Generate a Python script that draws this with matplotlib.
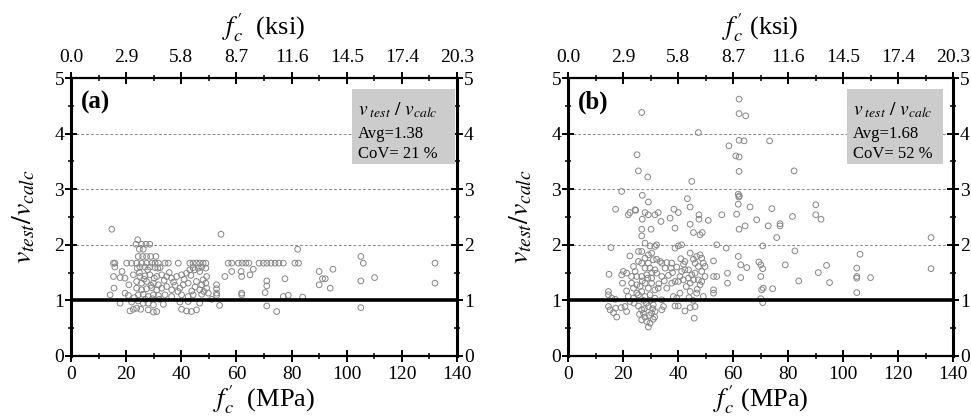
import matplotlib
matplotlib.use('Agg')
import matplotlib.pyplot as plt
from matplotlib.ticker import FixedLocator, MultipleLocator
from matplotlib.patches import Rectangle

plt.rcParams['font.family'] = ['Liberation Serif', 'DejaVu Serif']
plt.rcParams['mathtext.fontset'] = 'stix'

# ---------------- data ----------------
mpa_ticks = [0, 20, 40, 60, 80, 100, 120, 140]
ksi_labels = ['0.0', '2.9', '5.8', '8.7', '11.6', '14.5', '17.4', '20.3']
y_ticks = [0, 1, 2, 3, 4, 5]
grid_levels = [2, 3, 4]
panel_labels = ['(a)', '(b)']
stat_avg = [1.38, 1.68]
stat_cov = [21, 52]

a_fc = [
    14.8, 54.4, 24.2, 23.6, 25.6, 27.2, 28.6, 24.8, 26.2, 24.4, 26.0, 27.4, 28.9, 30.8, 82.2, 105.1,
    15.4, 15.9, 20.2, 22.0, 23.8, 25.6, 27.4, 29.3, 30.5, 31.7, 34.1, 35.3, 38.9, 43.1, 44.3, 45.5, 46.7, 47.9,
    48.9, 57.0, 58.3, 60.7, 62.1, 63.4, 64.5, 68.2, 69.8, 71.0, 72.5, 74.0, 75.4, 77.0, 81.2, 82.5, 106.0, 132.0,
    15.9, 25.0, 26.8, 28.6, 30.5, 32.3, 47.4, 48.9, 44.3, 46.2,
    15.4, 17.8, 19.6, 22.6, 25.0, 26.8, 28.6, 31.1, 32.9, 34.7, 36.5, 38.3, 40.1, 41.9, 43.1, 44.9, 46.7, 49.2, 47.9, 55.8, 58.3,
    23.8, 25.6, 27.4, 29.9, 31.7, 34.7, 37.7, 40.7, 42.5, 45.5, 47.4, 48.9,
    15.6, 23.8, 25.6, 27.4, 29.3, 31.1, 32.9, 36.5, 39.5, 43.8, 46.7, 48.2, 49.2, 52.8, 52.8, 52.8,
    14.2, 19.6, 20.8, 24.4, 26.2, 28.0, 29.9, 31.7, 34.1, 36.5, 40.1, 42.5, 44.3, 47.4, 49.8, 52.8,
    17.8, 22.0, 24.4, 26.2, 28.0, 29.9, 33.5, 39.5, 42.5, 46.7, 53.9, 51.0,
    21.4, 22.6, 23.8, 25.3, 28.0, 29.9, 31.1, 40.1, 41.9, 43.7, 45.5,
    18.5, 21.0, 23.0, 24.8, 26.5, 27.8, 29.0, 30.2, 32.0, 33.8, 35.6, 37.2, 38.8, 41.0, 43.5, 45.0, 27.0, 29.5, 24.0, 31.5,
    66.1, 61.7, 61.9, 64.9, 90.0, 95.0, 91.2, 92.2, 77.6, 71.0, 71.0, 70.4, 61.9, 61.9, 90.0, 94.0, 105.1, 110.1, 132.0,
    77.0, 78.8, 84.0, 71.0, 74.6, 105.1,
]
a_ratio = [
    2.28, 2.19, 2.09, 2.01, 2.01, 2.01, 2.01, 1.92, 1.92, 1.79, 1.79, 1.79, 1.79, 1.79, 1.92, 1.79,
    1.67, 1.67, 1.67, 1.67, 1.67, 1.67, 1.67, 1.67, 1.67, 1.67, 1.67, 1.67, 1.67, 1.67, 1.67, 1.67, 1.67, 1.67,
    1.67, 1.67, 1.67, 1.67, 1.67, 1.67, 1.67, 1.67, 1.67, 1.67, 1.67, 1.67, 1.67, 1.67, 1.67, 1.67, 1.67, 1.67,
    1.60, 1.60, 1.60, 1.60, 1.59, 1.59, 1.60, 1.58, 1.59, 1.58,
    1.43, 1.41, 1.40, 1.46, 1.43, 1.44, 1.46, 1.43, 1.46, 1.43, 1.40, 1.43, 1.46, 1.49, 1.55, 1.55, 1.52, 1.43, 1.37, 1.43, 1.52,
    1.34, 1.31, 1.34, 1.31, 1.28, 1.25, 1.27, 1.28, 1.31, 1.34, 1.28, 1.31,
    1.22, 1.22, 1.19, 1.21, 1.23, 1.19, 1.22, 1.19, 1.22, 1.17, 1.19, 1.16, 1.22, 1.28, 1.21, 1.13,
    1.10, 1.13, 1.09, 1.10, 1.11, 1.07, 1.10, 1.09, 1.10, 1.07, 1.10, 1.07, 1.10, 1.11, 1.13, 1.09,
    0.95, 0.97, 0.99, 0.95, 0.95, 0.92, 0.93, 0.97, 0.98, 0.95, 0.91, 1.02,
    0.81, 0.84, 0.86, 0.84, 0.83, 0.79, 0.80, 0.84, 0.81, 0.80, 0.83,
    1.52, 1.28, 1.05, 1.50, 1.38, 1.55, 1.27, 1.40, 1.02, 1.36, 1.50, 1.33, 1.16, 1.38, 1.45, 1.24, 1.02, 1.03, 1.58, 1.58,
    1.56, 1.52, 1.43, 1.46, 1.52, 1.56, 1.39, 1.39, 1.39, 1.35, 1.26, 1.14, 1.13, 1.10, 1.28, 1.22, 1.35, 1.41, 1.31,
    1.07, 1.09, 1.06, 0.90, 0.80, 0.87,
]

b_fc = [
    62.2, 62.2, 64.6, 26.8, 47.4, 62.2, 64.0, 73.3, 58.5, 61.0, 62.2, 25.1, 25.6, 29.0, 62.2, 82.2, 45.0, 19.5,
    27.0, 29.2, 43.4, 61.9, 62.3, 62.1, 44.4, 61.9, 66.2, 74.1, 90.1, 90.1, 92.0, 81.6, 17.3, 21.9, 22.5, 24.4, 24.6,
    27.0, 28.0, 29.2, 31.6, 32.8, 33.8, 37.1, 38.5, 40.1, 47.6, 47.6, 51.0, 55.9, 61.3, 68.6, 72.8, 77.1, 77.1,
    62.2, 64.4, 26.8, 30.2, 38.9, 44.4, 45.6, 48.8,
    15.6, 28.0, 29.8, 31.6, 32.2, 38.9, 40.1, 41.3, 54.1, 26.8, 48.0,
    22.5, 25.6, 26.8, 28.0, 29.2, 30.4, 31.0, 32.2, 33.5, 29.2, 26.8, 25.6, 23.8, 24.4, 28.0, 29.8, 31.6, 34.1, 35.9,
    37.7, 37.5, 35.3, 42.5, 44.4, 45.6, 46.8, 48.0, 48.6, 49.2, 46.2, 47.4, 43.8, 42.5, 45.0, 46.2, 48.6, 49.8, 52.9,
    14.9, 20.1, 19.5, 21.3, 23.1, 25.0, 26.8, 28.6, 30.4, 32.2, 34.1, 41.3, 40.7,
    38.9, 37.7, 35.9, 40.1, 41.9, 43.8, 44.4, 45.6, 47.4, 48.6, 49.8, 52.9, 54.1,
    19.8, 21.3, 23.1, 23.8, 25.0, 26.2, 28.0, 29.2, 30.4, 31.6, 32.8, 26.8, 25.0,
    14.7, 14.7, 15.9, 17.1, 21.9, 23.8, 25.6, 28.0, 29.8, 31.6, 34.1, 38.3, 40.7, 39.5, 44.4, 46.8, 49.2, 52.9, 52.9,
    14.7, 15.3, 16.5, 17.3, 17.7, 19.3, 21.3, 20.7, 25.6, 26.8, 27.4, 28.0, 26.8, 28.6,
    29.8, 29.2, 31.0, 31.6, 30.4, 29.2, 34.1, 34.7, 38.9, 40.1, 42.5, 44.4, 46.2, 45.9,
    27.5, 28.5, 30.0, 31.0, 27.0, 29.0, 30.5, 24.0, 22.5, 33.0, 35.0, 36.5, 38.0,
    39.5, 41.0, 42.0, 43.0, 44.0, 45.5, 47.0, 48.0, 29.5, 30.8, 27.8, 26.0, 31.5,
    61.9, 62.8, 65.0, 69.4, 70.1, 70.8, 79.0, 94.0, 105.0, 105.0, 105.0, 110.0, 91.0, 132.0, 58.0, 58.0,
    62.8, 70.1, 83.9, 95.1, 70.4, 71.0, 74.4, 105.0, 70.1, 70.8, 75.9, 132.0, 57.5, 70.8, 82.5, 106.2,
]
b_ratio = [
    4.62, 4.36, 4.32, 4.38, 4.02, 3.88, 3.87, 3.87, 3.78, 3.60, 3.58, 3.62, 3.33, 3.22, 3.32, 3.33, 3.14, 2.96,
    2.89, 2.77, 2.83, 2.91, 2.88, 2.86, 2.68, 2.73, 2.68, 2.65, 2.72, 2.54, 2.46, 2.51, 2.64, 2.54, 2.58, 2.63, 2.62,
    2.46, 2.58, 2.54, 2.54, 2.58, 2.42, 2.48, 2.64, 2.58, 2.54, 2.46, 2.44, 2.54, 2.55, 2.45, 2.34, 2.38, 2.34,
    2.28, 2.34, 2.28, 2.28, 2.30, 2.37, 2.22, 2.22,
    1.95, 2.03, 1.98, 1.97, 2.00, 1.94, 1.98, 2.00, 2.00, 2.16, 2.18,
    1.80, 1.88, 1.88, 1.76, 1.82, 1.85, 1.73, 1.74, 1.70, 1.67, 1.67, 1.70, 1.61, 1.52, 1.58, 1.58, 1.55, 1.67, 1.68,
    1.67, 1.58, 1.58, 1.70, 1.85, 1.74, 1.79, 1.82, 1.76, 1.67, 1.67, 1.61, 1.55, 1.55, 1.46, 1.49, 1.52, 1.61, 1.71,
    1.47, 1.52, 1.46, 1.49, 1.43, 1.43, 1.43, 1.46, 1.40, 1.49, 1.43, 1.52, 1.43,
    1.34, 1.31, 1.22, 1.34, 1.37, 1.40, 1.31, 1.37, 1.37, 1.34, 1.43, 1.43, 1.43,
    1.31, 1.17, 1.31, 1.22, 1.28, 1.25, 1.31, 1.22, 1.31, 1.19, 1.22, 1.16, 1.13,
    1.16, 1.10, 1.04, 1.02, 1.07, 1.04, 1.10, 1.07, 1.10, 1.04, 1.01, 1.07, 1.13, 1.04, 1.16, 1.13, 1.07, 1.19, 1.13,
    0.89, 0.83, 0.78, 0.86, 0.70, 0.87, 0.80, 0.89, 0.90, 0.83, 0.77, 0.70, 0.65, 0.62,
    0.59, 0.52, 0.66, 0.80, 0.77, 0.89, 0.83, 0.89, 0.90, 0.90, 0.81, 0.87, 0.89, 0.68,
    1.00, 0.95, 1.00, 0.92, 1.35, 1.40, 1.50, 0.95, 0.98, 1.30, 1.35, 1.45, 1.50,
    1.60, 1.75, 1.65, 1.25, 1.05, 1.00, 1.20, 1.28, 0.73, 0.85, 0.85, 0.75, 0.70,
    1.79, 1.64, 1.59, 1.69, 1.64, 1.57, 1.64, 1.63, 1.58, 1.43, 1.40, 1.41, 1.50, 1.57, 1.49, 1.31,
    1.41, 1.43, 1.35, 1.32, 1.19, 1.22, 1.21, 1.14, 1.03, 0.96, 2.13, 2.13, 1.94, 1.98, 1.89, 1.83,
]

# ---------------- figure ----------------
fig = plt.figure(figsize=(9.71, 4.19), dpi=100)
rects = [(0.0731, 0.1504, 0.3976, 0.6634), (0.585, 0.1504, 0.3965, 0.6634)]
xlab_bottom = [r"$f_c'$  (MPa)", r"$f_c'$ (MPa)"]
xlab_top = [r"$f_c'$  (ksi)", r"$f_c'$ (ksi)"]
box_x = [(0.728, 0.995), (0.725, 0.974)]
series = [(a_fc, a_ratio), (b_fc, b_ratio)]

for i in range(2):
    ax = fig.add_axes(rects[i])
    fc, ratio = series[i]
    ax.set_xlim(0, 140)
    ax.set_ylim(0, 5)
    for g in grid_levels:
        ax.axhline(g, color='#8c8c8c', lw=0.7, ls=(0, (3, 2)), zorder=1)
    ax.axhline(1, color='black', lw=2.6, zorder=3)
    ax.scatter(fc, ratio, s=17, facecolors='none', edgecolors='#858585',
               linewidths=0.7, zorder=2)

    ax.xaxis.set_major_locator(FixedLocator(mpa_ticks))
    ax.xaxis.set_minor_locator(MultipleLocator(10))
    ax.yaxis.set_major_locator(FixedLocator(y_ticks))
    ax.yaxis.set_minor_locator(MultipleLocator(0.5))
    ax.tick_params(which='major', direction='inout', length=8, width=1.4,
                   top=True, right=True, labelright=True, labelsize=14, pad=1)
    ax.tick_params(axis='x', which='major', pad=3)
    ax.tick_params(which='minor', direction='inout', length=5, width=1.1,
                   top=True, right=True)
    for s in ['left', 'right']:
        ax.spines[s].set_linewidth(2.2)
    for s in ['top', 'bottom']:
        ax.spines[s].set_linewidth(1.6)

    sec = ax.secondary_xaxis('top')
    sec.set_xticks(mpa_ticks, labels=ksi_labels)
    sec.tick_params(length=0, labelsize=14, pad=9)
    sec.spines['top'].set_visible(False)
    sec.set_xlabel(xlab_top[i], fontsize=19, labelpad=10)

    ax.set_xlabel(xlab_bottom[i], fontsize=19, labelpad=0)
    ax.set_ylabel(r"$v_{test}/v_{calc}$", fontsize=20, labelpad=12)

    ax.text(0.025, 0.955, panel_labels[i], transform=ax.transAxes,
            fontsize=18, fontweight='bold', va='top', ha='left')

    x0, x1 = box_x[i]
    ax.add_patch(Rectangle((x0, 0.69), x1 - x0, 0.27, transform=ax.transAxes,
                           facecolor='#cccccc', edgecolor='none', zorder=4))
    tx = x0 + 0.015
    ax.text(tx, 0.885, r"$v_{\ test}\ /\ v_{calc}$", transform=ax.transAxes,
            fontsize=14, va='center', ha='left', zorder=5)
    ax.text(tx, 0.80, f"Avg={stat_avg[i]:.2f}", transform=ax.transAxes,
            fontsize=12, va='center', ha='left', zorder=5)
    ax.text(tx, 0.725, f"CoV= {stat_cov[i]} %", transform=ax.transAxes,
            fontsize=12, va='center', ha='left', zorder=5)

fig.savefig('out.png', dpi=100)
